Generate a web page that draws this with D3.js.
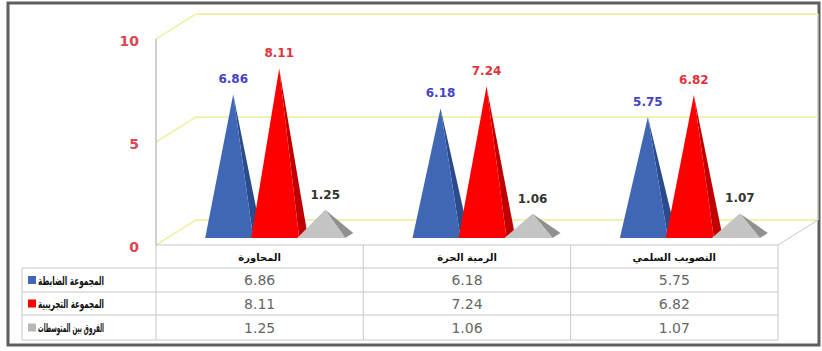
<!DOCTYPE html>
<html>
<head>
<meta charset="utf-8">
<script src="https://cdn.jsdelivr.net/npm/d3@7"></script>
<style>
  body { margin: 0; background: #fff; }
  svg { display: block; }
</style>
</head>
<body>
<div id="chart"></div>
<script>
const categories = ['المحاورة', 'الرمية الحرة', 'التصويب السلمي'];
const seriesNames = ['المجموعة الضابطة', 'المجموعة التجريبية', 'الفروق بين المتوسطات'];
const controlValues = [6.86, 6.18, 5.75];
const experimentalValues = [8.11, 7.24, 6.82];
const differenceValues = [1.25, 1.06, 1.07];
const yTicks = [0, 5, 10];

// colours per series (front face, right face, label, legend)
const series = [
  { name: seriesNames[0], values: controlValues, front: '#3f67b5', side: '#2b4c8c', label: '#4343c4', key: '#3f67b5' },
  { name: seriesNames[1], values: experimentalValues, front: '#ff0000', side: '#c00000', label: '#e2323c', key: '#ff0000' },
  { name: seriesNames[2], values: differenceValues, front: '#c4c4c4', side: '#909090', label: '#333333', key: '#b8b8b8' },
];

const width = 822, height = 351;
const DX = 40, DY = 25; // depth of the 3d box
const d0 = 0.28, d1 = 0.48; // depth span of a pyramid

const svg = d3.select('#chart').append('svg')
  .attr('width', width)
  .attr('height', height)
  .style('font-family', '"DejaVu Sans", sans-serif');

const x = d3.scaleBand().domain(categories).range([156, 778]);
const y = d3.scaleLinear().domain([0, 10]).range([245, 39]);
const sub = d3.scaleBand().domain(seriesNames).range([38, 176]);
const w = sub.bandwidth() + 2;

const P = (px, v, d) => [px + d * DX, y(v) - d * DY];

// outer frame
svg.append('rect')
  .attr('x', 8).attr('y', 3)
  .attr('width', 811).attr('height', 342)
  .attr('fill', '#fff')
  .attr('stroke', '#5e5e5e')
  .attr('stroke-width', 3);

const x0 = x.range()[0], x1 = x.range()[1];

// walls and gridlines
const grid = svg.append('g').attr('fill', 'none');
yTicks.forEach((t) => {
  const a = P(x0, t, 0), b = P(x0, t, 1), c = P(x1, t, 1);
  grid.append('path')
    .attr('d', d3.line()([a, b, c]))
    .attr('stroke', '#f0f2b0')
    .attr('stroke-width', 2);
});
// back wall right edge
grid.append('path')
  .attr('d', d3.line()([P(x1, 0, 1), P(x1, 10, 1)]))
  .attr('stroke', '#f2f2dc');
// floor right edge
grid.append('path')
  .attr('d', d3.line()([P(x1, 0, 0), P(x1, 0, 1)]))
  .attr('stroke', '#c8c8c8');

// vertical axis
svg.append('line')
  .attr('x1', x0).attr('x2', x0)
  .attr('y1', y(10)).attr('y2', y(0))
  .attr('stroke', '#a0a0a0');

svg.append('g').selectAll('text')
  .data(yTicks)
  .join('text')
  .attr('x', 139)
  .attr('y', d => y(d) + 3)
  .attr('text-anchor', 'end')
  .attr('dominant-baseline', 'middle')
  .attr('font-size', 14)
  .attr('font-weight', 'bold')
  .attr('fill', '#dc4656')
  .text(d => d);

// pyramids
const bars = svg.append('g');
categories.forEach((cat, ci) => {
  series.forEach((s) => {
    const v = s.values[ci];
    const xf = x(cat) + sub(s.name);
    const fl = P(xf, 0, d0), fr = P(xf + w, 0, d0), br = P(xf + w, 0, d1);
    const apex = P(xf + w / 2, v, (d0 + d1) / 2);
    bars.append('path')
      .attr('d', d3.line()([fr, br, apex]) + 'Z')
      .attr('fill', s.side);
    bars.append('path')
      .attr('d', d3.line()([fl, fr, apex]) + 'Z')
      .attr('fill', s.front);
    bars.append('text')
      .attr('x', apex[0])
      .attr('y', apex[1] - 11)
      .attr('text-anchor', 'middle')
      .attr('font-size', 12)
      .attr('font-weight', 'bold')
      .attr('fill', s.label)
      .text(v.toFixed(2));
  });
});

// data table
const rowY = [245, 268, 292, 315, 340];
const tbl = svg.append('g').attr('stroke', '#c8c8c8').attr('stroke-width', 1);
tbl.append('line').attr('x1', x0).attr('x2', x1).attr('y1', rowY[0]).attr('y2', rowY[0]);
rowY.slice(1).forEach((ry) => {
  tbl.append('line').attr('x1', 22).attr('x2', x1).attr('y1', ry).attr('y2', ry);
});
tbl.append('line').attr('x1', 22).attr('x2', 22).attr('y1', rowY[1]).attr('y2', rowY[4]);
[...categories.map(c => x(c)), x1].forEach((cx) => {
  tbl.append('line').attr('x1', cx).attr('x2', cx).attr('y1', rowY[0]).attr('y2', rowY[4]);
});

svg.append('g').selectAll('text')
  .data(categories)
  .join('text')
  .attr('x', d => x(d) + x.bandwidth() / 2)
  .attr('y', (rowY[0] + rowY[1]) / 2 + 1)
  .attr('text-anchor', 'middle')
  .attr('dominant-baseline', 'middle')
  .attr('font-size', 10)
  .attr('font-weight', 'bold')
  .attr('fill', '#111')
  .text(d => d);

series.forEach((s, si) => {
  const cy = (rowY[si + 1] + rowY[si + 2]) / 2;
  svg.append('rect')
    .attr('x', 28).attr('y', cy - 4)
    .attr('width', 8).attr('height', 8)
    .attr('fill', s.key);
  svg.append('text')
    .attr('x', 71)
    .attr('y', cy + 1)
    .attr('text-anchor', 'middle')
    .attr('dominant-baseline', 'middle')
    .attr('font-size', 12)
    .attr('font-weight', 'bold')
    .attr('textLength', 66)
    .attr('lengthAdjust', 'spacingAndGlyphs')
    .attr('fill', '#111')
    .text(s.name);
  svg.append('g').selectAll('text')
    .data(s.values)
    .join('text')
    .attr('x', (d, i) => x(categories[i]) + x.bandwidth() / 2)
    .attr('y', cy + 1)
    .attr('text-anchor', 'middle')
    .attr('dominant-baseline', 'middle')
    .attr('font-size', 14)
    .attr('fill', '#666')
    .text(d => d.toFixed(2));
});
</script>
</body>
</html>
